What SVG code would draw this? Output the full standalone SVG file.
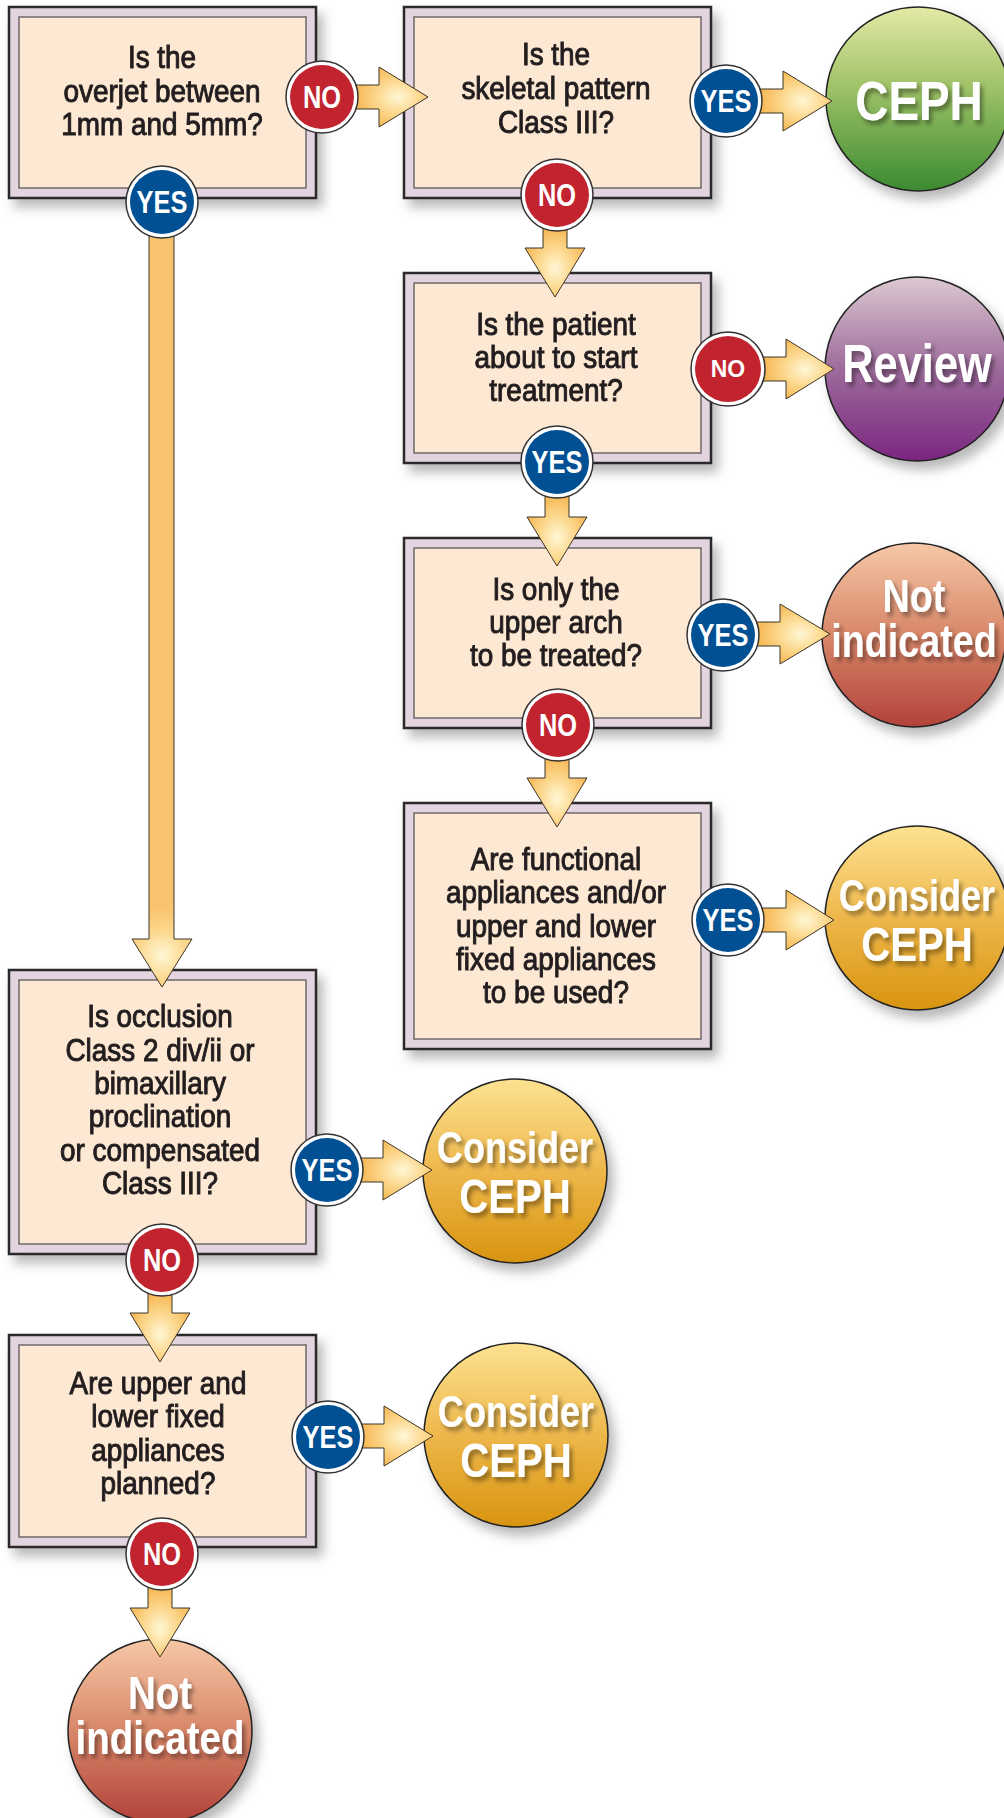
<svg xmlns="http://www.w3.org/2000/svg" width="1004" height="1818" viewBox="0 0 1004 1818">
<defs>
  <filter id="shadow" x="-20%" y="-20%" width="150%" height="150%">
    <feDropShadow dx="6" dy="8" stdDeviation="6" flood-color="#000" flood-opacity="0.28"/>
  </filter>
  <filter id="tshadow" x="-20%" y="-30%" width="150%" height="170%">
    <feGaussianBlur in="SourceAlpha" stdDeviation="2.5" result="b"/>
    <feOffset in="b" dx="4" dy="4" result="o"/>
    <feFlood flood-color="#000" flood-opacity="0.4"/>
    <feComposite in2="o" operator="in" result="s"/>
    <feMerge><feMergeNode in="s"/><feMergeNode in="SourceGraphic"/></feMerge>
  </filter>
  <linearGradient id="gGreen" x1="0" y1="0" x2="0" y2="1">
    <stop offset="0" stop-color="#e3e9a6"/><stop offset="0.45" stop-color="#9dc166"/><stop offset="1" stop-color="#3a8a30"/>
  </linearGradient>
  <linearGradient id="gPurple" x1="0" y1="0" x2="0" y2="1">
    <stop offset="0" stop-color="#dcc9d1"/><stop offset="0.5" stop-color="#9d6b9b"/><stop offset="1" stop-color="#7a2680"/>
  </linearGradient>
  <linearGradient id="gPeach" x1="0" y1="0" x2="0" y2="1">
    <stop offset="0" stop-color="#f6c8a7"/><stop offset="0.5" stop-color="#d88769"/><stop offset="1" stop-color="#b2413a"/>
  </linearGradient>
  <linearGradient id="gGold" x1="0" y1="0" x2="0" y2="1">
    <stop offset="0" stop-color="#fde291"/><stop offset="0.5" stop-color="#eeb74b"/><stop offset="1" stop-color="#d8940f"/>
  </linearGradient>
  <radialGradient id="aH" cx="0.62" cy="0.5" r="0.55">
    <stop offset="0" stop-color="#fff7d6"/><stop offset="0.5" stop-color="#fcd88e"/><stop offset="1" stop-color="#f6b855"/>
  </radialGradient>
  <radialGradient id="aV" cx="0.5" cy="0.62" r="0.55">
    <stop offset="0" stop-color="#fff7d6"/><stop offset="0.5" stop-color="#fcd88e"/><stop offset="1" stop-color="#f6b855"/>
  </radialGradient>
  <radialGradient id="aLong" gradientUnits="userSpaceOnUse" cx="162" cy="955" r="48">
    <stop offset="0" stop-color="#fff7d6"/><stop offset="0.5" stop-color="#fcd88e"/><stop offset="1" stop-color="#f8c36c"/>
  </radialGradient>
  <style>
    .outer{fill:#e4d4e0;stroke:#2a2a2a;stroke-width:2.5}
    .inner{fill:#fde9d3;stroke:#6e6868;stroke-width:1.5}
    .q{font-family:"Liberation Sans",Arial,sans-serif;font-weight:400;font-size:31px;fill:#231f20;stroke:#231f20;stroke-width:1;text-anchor:middle}
    .term{stroke:#222;stroke-width:1.5}
    .tt{font-family:"Liberation Sans",Arial,sans-serif;font-weight:700;fill:#fff;text-anchor:middle}
    .arr{stroke:#3d3428;stroke-width:1;stroke-linejoin:miter}
    .ring{fill:#fff;stroke:#333;stroke-width:1.5}
    .yes{fill:#005093}
    .no{fill:#c1232f}
    .bt{font-family:"Liberation Sans",Arial,sans-serif;font-weight:700;font-size:31px;fill:#fff;text-anchor:middle}
    .bt2{font-family:"Liberation Sans",Arial,sans-serif;font-weight:700;font-size:23px;fill:#fff;text-anchor:middle}
  </style>
</defs>
<rect width="1004" height="1818" fill="#fff"/>

<g id="nodes">
  <g id="q1" filter="url(#shadow)">
    <rect class="outer" x="9" y="7" width="307" height="191"/>
    <rect class="inner" x="19" y="17" width="287" height="171"/>
    <text class="q" transform="translate(162,0) scale(0.9,1)"><tspan x="0" y="68">Is the</tspan><tspan x="0" y="102">overjet between</tspan><tspan x="0" y="135">1mm and 5mm?</tspan></text>
  </g>
  <g id="q2" filter="url(#shadow)">
    <rect class="outer" x="404" y="7" width="307" height="191"/>
    <rect class="inner" x="414" y="17" width="287" height="171"/>
    <text class="q" transform="translate(556,0) scale(0.9,1)"><tspan x="0" y="65">Is the</tspan><tspan x="0" y="99">skeletal pattern</tspan><tspan x="0" y="133">Class III?</tspan></text>
  </g>
  <g id="q3" filter="url(#shadow)">
    <rect class="outer" x="404" y="273" width="307" height="190"/>
    <rect class="inner" x="414" y="283" width="287" height="170"/>
    <text class="q" transform="translate(556,0) scale(0.9,1)"><tspan x="0" y="335">Is the patient</tspan><tspan x="0" y="368">about to start</tspan><tspan x="0" y="401">treatment?</tspan></text>
  </g>
  <g id="q4" filter="url(#shadow)">
    <rect class="outer" x="404" y="538" width="307" height="190"/>
    <rect class="inner" x="414" y="548" width="287" height="170"/>
    <text class="q" transform="translate(556,0) scale(0.9,1)"><tspan x="0" y="600">Is only the</tspan><tspan x="0" y="633">upper arch</tspan><tspan x="0" y="666">to be treated?</tspan></text>
  </g>
  <g id="q5" filter="url(#shadow)">
    <rect class="outer" x="404" y="803" width="307" height="246"/>
    <rect class="inner" x="414" y="813" width="287" height="226"/>
    <text class="q" transform="translate(556,0) scale(0.9,1)"><tspan x="0" y="870">Are functional</tspan><tspan x="0" y="903">appliances and/or</tspan><tspan x="0" y="937">upper and lower</tspan><tspan x="0" y="970">fixed appliances</tspan><tspan x="0" y="1003">to be used?</tspan></text>
  </g>
  <g id="q6" filter="url(#shadow)">
    <rect class="outer" x="9" y="970" width="307" height="284"/>
    <rect class="inner" x="19" y="980" width="287" height="264"/>
    <text class="q" transform="translate(160,0) scale(0.9,1)"><tspan x="0" y="1027">Is occlusion</tspan><tspan x="0" y="1061">Class 2 div/ii or</tspan><tspan x="0" y="1094">bimaxillary</tspan><tspan x="0" y="1127">proclination</tspan><tspan x="0" y="1161">or compensated</tspan><tspan x="0" y="1194">Class III?</tspan></text>
  </g>
  <g id="q7" filter="url(#shadow)">
    <rect class="outer" x="9" y="1335" width="307" height="212"/>
    <rect class="inner" x="19" y="1345" width="287" height="192"/>
    <text class="q" transform="translate(158,0) scale(0.9,1)"><tspan x="0" y="1394">Are upper and</tspan><tspan x="0" y="1427">lower fixed</tspan><tspan x="0" y="1461">appliances</tspan><tspan x="0" y="1494">planned?</tspan></text>
  </g>

  <g id="ceph" filter="url(#shadow)">
    <circle class="term" cx="918" cy="99" r="92" fill="url(#gGreen)"/>
    <text class="tt" transform="translate(919,120) scale(0.82,1)" x="0" y="0" font-size="56" filter="url(#tshadow)">CEPH</text>
  </g>
  <g id="review" filter="url(#shadow)">
    <circle class="term" cx="917" cy="369" r="92" fill="url(#gPurple)"/>
    <text class="tt" transform="translate(917,382) scale(0.82,1)" x="0" y="0" font-size="53" filter="url(#tshadow)">Review</text>
  </g>
  <g id="notind1" filter="url(#shadow)">
    <circle class="term" cx="914" cy="635" r="92" fill="url(#gPeach)"/>
    <text class="tt" transform="translate(914,0) scale(0.82,1)" font-size="46" filter="url(#tshadow)"><tspan x="0" y="612">Not</tspan><tspan x="0" y="657">indicated</tspan></text>
  </g>
  <g id="consider1" filter="url(#shadow)">
    <circle class="term" cx="917" cy="918" r="92" fill="url(#gGold)"/>
    <text class="tt" transform="translate(917,0) scale(0.82,1)" filter="url(#tshadow)"><tspan x="0" y="911" font-size="44">Consider</tspan><tspan x="0" y="961" font-size="49">CEPH</tspan></text>
  </g>
  <g id="consider2" filter="url(#shadow)">
    <circle class="term" cx="515" cy="1171" r="92" fill="url(#gGold)"/>
    <text class="tt" transform="translate(515,0) scale(0.82,1)" filter="url(#tshadow)"><tspan x="0" y="1163" font-size="44">Consider</tspan><tspan x="0" y="1213" font-size="49">CEPH</tspan></text>
  </g>
  <g id="consider3" filter="url(#shadow)">
    <circle class="term" cx="516" cy="1435" r="92" fill="url(#gGold)"/>
    <text class="tt" transform="translate(516,0) scale(0.82,1)" filter="url(#tshadow)"><tspan x="0" y="1427" font-size="44">Consider</tspan><tspan x="0" y="1477" font-size="49">CEPH</tspan></text>
  </g>
  <g id="notind2" filter="url(#shadow)">
    <circle class="term" cx="160" cy="1731" r="92" fill="url(#gPeach)"/>
    <text class="tt" transform="translate(160,0) scale(0.82,1)" font-size="47" filter="url(#tshadow)"><tspan x="0" y="1709">Not</tspan><tspan x="0" y="1754">indicated</tspan></text>
  </g>
</g>

<g id="connectors">
  <path class="arr" fill="url(#aH)" d="M350,85 H379 V67 L428,97 L379,127 V109 H350 Z"/>
  <path class="arr" fill="url(#aH)" d="M755,89 H783 V71 L832,101 L783,131 V113 H755 Z"/>
  <path class="arr" fill="url(#aH)" d="M758,357 H786 V339 L834,369 L786,399 V381 H758 Z"/>
  <path class="arr" fill="url(#aH)" d="M752,622 H780 V604 L830,634 L780,664 V646 H752 Z"/>
  <path class="arr" fill="url(#aH)" d="M758,908 H786 V890 L834,920 L786,950 V932 H758 Z"/>
  <path class="arr" fill="url(#aH)" d="M355,1158 H383 V1140 L432,1170 L383,1200 V1182 H355 Z"/>
  <path class="arr" fill="url(#aH)" d="M356,1424 H384 V1406 L433,1436 L384,1466 V1448 H356 Z"/>
  <path class="arr" fill="url(#aV)" d="M543,222 V248 H525 L555,297 L585,248 H567 V222 Z"/>
  <path class="arr" fill="url(#aV)" d="M545,490 V517 H527 L557,566 L587,517 H569 V490 Z"/>
  <path class="arr" fill="url(#aV)" d="M545,752 V778 H527 L557,827 L587,778 H569 V752 Z"/>
  <path class="arr" fill="url(#aLong)" d="M149,230 V939 H132 L162,987 L192,939 H174 V230 Z"/>
  <path class="arr" fill="url(#aV)" d="M148,1288 V1313 H130 L160,1362 L190,1313 H172 V1288 Z"/>
  <path class="arr" fill="url(#aV)" d="M148,1582 V1608 H130 L160,1657 L190,1608 H172 V1582 Z"/>

  <g id="b1no"><circle class="ring" cx="322" cy="97" r="36"/><circle class="no" cx="322" cy="97" r="32"/><text class="bt" transform="translate(322,108) scale(0.82,1)">NO</text></g>
  <g id="b1yes"><circle class="ring" cx="162" cy="202" r="36"/><circle class="yes" cx="162" cy="202" r="32"/><text class="bt" transform="translate(162,213) scale(0.82,1)">YES</text></g>
  <g id="b2yes"><circle class="ring" cx="726" cy="101" r="36"/><circle class="yes" cx="726" cy="101" r="32"/><text class="bt" transform="translate(726,112) scale(0.82,1)">YES</text></g>
  <g id="b2no"><circle class="ring" cx="557" cy="195" r="36"/><circle class="no" cx="557" cy="195" r="32"/><text class="bt" transform="translate(557,206) scale(0.82,1)">NO</text></g>
  <g id="b3no"><circle class="ring" cx="728" cy="369" r="37"/><circle class="no" cx="728" cy="369" r="33"/><text class="bt2" x="728" y="377">NO</text></g>
  <g id="b3yes"><circle class="ring" cx="557" cy="462" r="36"/><circle class="yes" cx="557" cy="462" r="32"/><text class="bt" transform="translate(557,473) scale(0.82,1)">YES</text></g>
  <g id="b4yes"><circle class="ring" cx="723" cy="635" r="36"/><circle class="yes" cx="723" cy="635" r="32"/><text class="bt" transform="translate(723,646) scale(0.82,1)">YES</text></g>
  <g id="b4no"><circle class="ring" cx="558" cy="725" r="36"/><circle class="no" cx="558" cy="725" r="32"/><text class="bt" transform="translate(558,736) scale(0.82,1)">NO</text></g>
  <g id="b5yes"><circle class="ring" cx="728" cy="920" r="36"/><circle class="yes" cx="728" cy="920" r="32"/><text class="bt" transform="translate(728,931) scale(0.82,1)">YES</text></g>
  <g id="b6yes"><circle class="ring" cx="327" cy="1170" r="36"/><circle class="yes" cx="327" cy="1170" r="32"/><text class="bt" transform="translate(327,1181) scale(0.82,1)">YES</text></g>
  <g id="b6no"><circle class="ring" cx="162" cy="1260" r="36"/><circle class="no" cx="162" cy="1260" r="32"/><text class="bt" transform="translate(162,1271) scale(0.82,1)">NO</text></g>
  <g id="b7yes"><circle class="ring" cx="328" cy="1437" r="36"/><circle class="yes" cx="328" cy="1437" r="32"/><text class="bt" transform="translate(328,1448) scale(0.82,1)">YES</text></g>
  <g id="b7no"><circle class="ring" cx="162" cy="1554" r="36"/><circle class="no" cx="162" cy="1554" r="32"/><text class="bt" transform="translate(162,1565) scale(0.82,1)">NO</text></g>
</g>
</svg>
